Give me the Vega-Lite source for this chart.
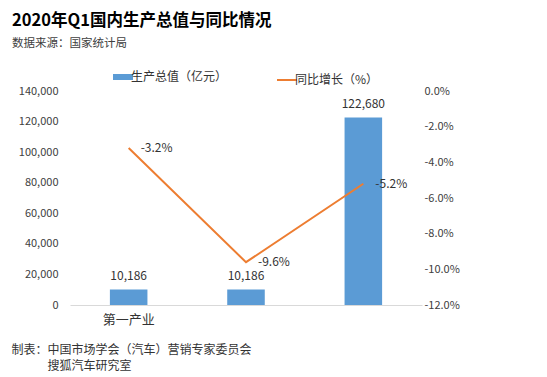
{
  "$schema": "https://vega.github.io/schema/vega-lite/v6.json",
  "width": 352,
  "height": 214,
  "padding": {"top": 13, "left": 11, "right": 5, "bottom": 2},
  "background": "white",
  "config": {
    "view": {"stroke": null},
    "font": "Noto Sans CJK SC"
  },
  "title": {
    "text": "2020年Q1国内生产总值与同比情况",
    "subtitle": "数据来源：国家统计局",
    "anchor": "start",
    "frame": "group",
    "dx": -58,
    "fontSize": 16.5,
    "fontWeight": "bold",
    "color": "#000000",
    "subtitleFontSize": 11.5,
    "subtitleColor": "#404040",
    "subtitlePadding": 8,
    "offset": 22
  },
  "data": {
    "values": [
      {"cat": "第一产业", "gdp": 10186, "yoy": -3.2},
      {"cat": "第二产业", "gdp": 10186, "yoy": -9.6},
      {"cat": "第三产业", "gdp": 122680, "yoy": -5.2}
    ]
  },
  "encoding": {
    "x": {
      "field": "cat",
      "type": "nominal",
      "sort": null,
      "scale": {"paddingInner": 0.68, "paddingOuter": 0.34},
      "axis": {
        "labelAngle": 0,
        "labelFontSize": 13,
        "labelColor": "#333333",
        "labelPadding": 8,
        "ticks": false,
        "domainColor": "#d9d9d9",
        "labelExpr": "datum.value == '第一产业' ? datum.value : ''",
        "title": ["制表：中国市场学会（汽车）营销专家委员会", "\u200b\u3000\u3000\u3000搜狐汽车研究室"],
        "titleFontSize": 12,
        "titleFontWeight": "normal",
        "titleColor": "#333333",
        "titleAlign": "left",
        "titleAnchor": "start",
        "titleBaseline": "top",
        "titleX": -59,
        "titleY": 39,
        "titleLineHeight": 16
      }
    }
  },
  "layer": [
    {
      "encoding": {
        "y": {
          "field": "gdp",
          "type": "quantitative",
          "scale": {"domain": [0, 140000]},
          "axis": {
            "values": [0, 20000, 40000, 60000, 80000, 100000, 120000, 140000],
            "labelExpr": "format(datum.value, ',')",
            "grid": false,
            "domain": false,
            "ticks": false,
            "labelPadding": 12,
            "labelFontSize": 11,
            "labelColor": "#404040",
            "title": null
          }
        }
      },
      "layer": [
        {
          "mark": {"type": "bar", "color": "#5B9BD5"},
          "encoding": {
            "color": {
              "datum": "生产总值（亿元）",
              "type": "nominal",
              "scale": {
                "domain": ["生产总值（亿元）", "同比增长（%）"],
                "range": ["#5B9BD5", "#ED7D31"]
              },
              "legend": {
                "title": null,
                "orient": "none",
                "legendX": 47,
                "legendY": -20,
                "direction": "horizontal",
                "labelFontSize": 12,
                "labelColor": "#333333",
                "symbolSize": 400,
                "columnPadding": 45,
                "labelOffset": 2,
                "encode": {
                  "symbols": {
                    "update": {
                      "shape": {"value": "stroke"},
                      "stroke": {"signal": "datum.index == 0 ? '#5B9BD5' : '#ED7D31'"},
                      "strokeWidth": {"signal": "datum.index == 0 ? 6 : 2"},
                      "fill": {"value": "transparent"}
                    }
                  }
                }
              }
            }
          }
        },
        {
          "mark": {"type": "text", "dy": -13, "fontSize": 12, "color": "#333333"},
          "encoding": {
            "text": {"field": "gdp", "type": "quantitative", "format": ","}
          }
        }
      ]
    },
    {
      "transform": [{"calculate": "datum.yoy + '%'", "as": "yoyLabel"}],
      "encoding": {
        "y": {
          "field": "yoy",
          "type": "quantitative",
          "scale": {"domain": [-12, 0]},
          "axis": {
            "orient": "right",
            "values": [0, -2, -4, -6, -8, -10, -12],
            "labelExpr": "replace(format(datum.value, '.1f'), '−', '-') + '%'",
            "grid": false,
            "domain": false,
            "ticks": false,
            "labelPadding": 2,
            "labelFontSize": 11,
            "labelColor": "#404040",
            "title": null
          }
        }
      },
      "layer": [
        {
          "mark": {"type": "line", "color": "#ED7D31", "strokeWidth": 2},
          "encoding": {
            "color": {"datum": "同比增长（%）", "type": "nominal"}
          }
        },
        {
          "mark": {"type": "text", "align": "left", "dx": 12, "fontSize": 12, "color": "#333333"},
          "encoding": {
            "text": {"field": "yoyLabel", "type": "nominal"}
          }
        }
      ]
    }
  ],
  "resolve": {"scale": {"y": "independent"}}
}
